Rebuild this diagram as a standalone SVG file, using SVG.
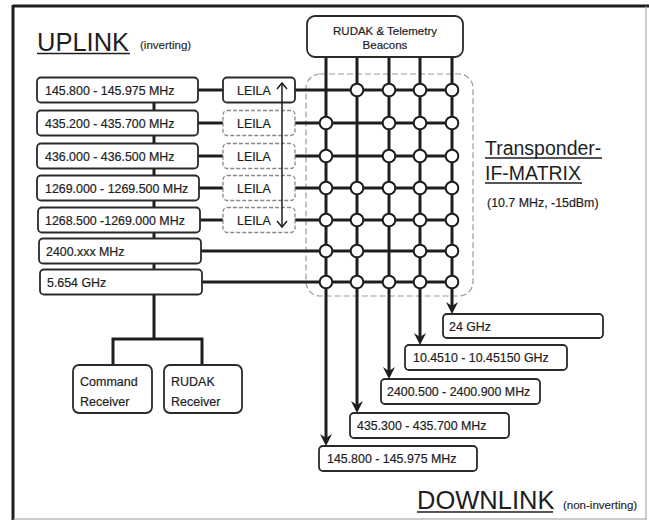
<svg xmlns="http://www.w3.org/2000/svg" width="649" height="522" viewBox="0 0 649 522">
<style>
text{font-family:"Liberation Sans",Arial,sans-serif;fill:#1e1e1e}
.t{font-size:12.4px;stroke:#1e1e1e;stroke-width:0.2}
.big{font-size:25.5px}
.sub{font-size:11.5px;stroke:#1e1e1e;stroke-width:0.15}
.box{fill:#fff;stroke:#2a2a2a;stroke-width:1.8}
.leila{fill:#fff;stroke:#8a8a8a;stroke-width:1.3;stroke-dasharray:4 2}
.w{stroke:#1e1e1e;stroke-width:3;fill:none}
.j{fill:#fff;stroke:#1e1e1e;stroke-width:2}
.ul{stroke:#1e1e1e;stroke-width:1.4}
</style>
<defs>
<marker id="ah" viewBox="0 0 12 12" refX="6" refY="6" markerWidth="12" markerHeight="12" markerUnits="userSpaceOnUse" orient="auto">
<path d="M0,0 L12,6 L0,12 L4,6 Z" fill="#1e1e1e"/>
</marker>
</defs>
<rect width="649" height="522" fill="#fff"/>
<!-- frame -->
<line x1="13" y1="6" x2="649" y2="6" stroke="#1e1e1e" stroke-width="3"/>
<line x1="13" y1="5" x2="13" y2="520" stroke="#1e1e1e" stroke-width="3"/>
<line x1="646" y1="6" x2="646" y2="520" stroke="#9a9a9a" stroke-width="1"/>
<line x1="13" y1="519" x2="646" y2="519" stroke="#9a9a9a" stroke-width="1"/>

<!-- titles -->
<text class="big" x="37" y="51">UPLINK</text>
<line class="ul" x1="37" y1="53.5" x2="130" y2="53.5"/>
<text class="sub" x="140" y="49">(inverting)</text>
<text class="big" x="417" y="509">DOWNLINK</text>
<line class="ul" x1="417" y1="512" x2="553" y2="512"/>
<text class="sub" x="563" y="509">(non-inverting)</text>
<text x="485" y="155" style="font-size:19.5px">Transponder-</text>
<line class="ul" x1="485" y1="158" x2="602" y2="158"/>
<text x="485" y="180" style="font-size:19.5px">IF-MATRIX</text>
<line class="ul" x1="485" y1="183" x2="582" y2="183"/>
<text class="t" x="487" y="207">(10.7 MHz, -15dBm)</text>

<!-- dashed matrix outline -->
<rect x="306" y="74" width="167" height="222" rx="14" fill="none" stroke="#9a9a9a" stroke-width="1.2" stroke-dasharray="6 3"/>

<!-- connectors -->
<g id="connectors">
<line class="w" x1="154" y1="100" x2="154" y2="339"/>
<polyline class="w" points="113,365 113,339 202,339 202,365"/>
<line class="w" x1="198" y1="90" x2="223" y2="90"/>
<line class="w" x1="198" y1="123" x2="223" y2="123"/>
<line class="w" x1="198" y1="156" x2="223" y2="156"/>
<line class="w" x1="198" y1="188" x2="223" y2="188"/>
<line class="w" x1="198" y1="220" x2="223" y2="220"/>
<line class="w" x1="295" y1="90" x2="452" y2="90"/>
<line class="w" x1="295" y1="123" x2="452" y2="123"/>
<line class="w" x1="295" y1="156" x2="452" y2="156"/>
<line class="w" x1="295" y1="188" x2="452" y2="188"/>
<line class="w" x1="295" y1="220" x2="452" y2="220"/>
<line class="w" x1="200" y1="251" x2="452" y2="251"/>
<line class="w" x1="200" y1="282" x2="452" y2="282"/>
<line class="w" x1="326" y1="57" x2="326" y2="440" marker-end="url(#ah)"/>
<line class="w" x1="357" y1="57" x2="357" y2="407" marker-end="url(#ah)"/>
<line class="w" x1="389" y1="57" x2="389" y2="373" marker-end="url(#ah)"/>
<line class="w" x1="420" y1="57" x2="420" y2="339" marker-end="url(#ah)"/>
<line class="w" x1="452" y1="57" x2="452" y2="308" marker-end="url(#ah)"/>
</g>

<!-- junctions -->
<g id="junctions">
<circle class="j" cx="357" cy="90" r="6.3"/><circle class="j" cx="389" cy="90" r="6.3"/><circle class="j" cx="420" cy="90" r="6.3"/><circle class="j" cx="452" cy="90" r="6.3"/>
<circle class="j" cx="326" cy="123" r="6.3"/><circle class="j" cx="389" cy="123" r="6.3"/><circle class="j" cx="420" cy="123" r="6.3"/><circle class="j" cx="452" cy="123" r="6.3"/>
<circle class="j" cx="326" cy="156" r="6.3"/><circle class="j" cx="389" cy="156" r="6.3"/><circle class="j" cx="420" cy="156" r="6.3"/><circle class="j" cx="452" cy="156" r="6.3"/>
<circle class="j" cx="326" cy="188" r="6.3"/><circle class="j" cx="357" cy="188" r="6.3"/><circle class="j" cx="389" cy="188" r="6.3"/><circle class="j" cx="420" cy="188" r="6.3"/><circle class="j" cx="452" cy="188" r="6.3"/>
<circle class="j" cx="326" cy="220" r="6.3"/><circle class="j" cx="357" cy="220" r="6.3"/><circle class="j" cx="389" cy="220" r="6.3"/><circle class="j" cx="420" cy="220" r="6.3"/><circle class="j" cx="452" cy="220" r="6.3"/>
<circle class="j" cx="326" cy="251" r="6.3"/><circle class="j" cx="357" cy="251" r="6.3"/><circle class="j" cx="420" cy="251" r="6.3"/><circle class="j" cx="452" cy="251" r="6.3"/>
<circle class="j" cx="326" cy="282" r="6.3"/><circle class="j" cx="357" cy="282" r="6.3"/><circle class="j" cx="389" cy="282" r="6.3"/><circle class="j" cx="420" cy="282" r="6.3"/><circle class="j" cx="452" cy="282" r="6.3"/>
</g>

<!-- uplink nodes -->
<g id="up1"><rect class="box" x="37" y="77.5" width="161" height="25" rx="4"/><text class="t" x="45" y="94.5">145.800 - 145.975 MHz</text></g>
<g id="up2"><rect class="box" x="37" y="110.5" width="161" height="25" rx="4"/><text class="t" x="45" y="127.5">435.200 - 435.700 MHz</text></g>
<g id="up3"><rect class="box" x="37" y="143.5" width="161" height="25" rx="4"/><text class="t" x="45" y="160.5">436.000 - 436.500 MHz</text></g>
<g id="up4"><rect class="box" x="37" y="175.5" width="162" height="25" rx="4"/><text class="t" x="45" y="192.5">1269.000 - 1269.500 MHz</text></g>
<g id="up5"><rect class="box" x="38" y="207.5" width="162" height="25" rx="4"/><text class="t" x="45" y="224.5">1268.500 -1269.000 MHz</text></g>
<g id="up6"><rect class="box" x="39" y="238.5" width="162" height="25" rx="4"/><text class="t" x="46" y="255.5">2400.xxx MHz</text></g>
<g id="up7"><rect class="box" x="40" y="269.5" width="162" height="25" rx="4"/><text class="t" x="47" y="286.5">5.654 GHz</text></g>

<!-- LEILA nodes -->
<g id="leila1"><rect class="box" x="223" y="77.5" width="72" height="25" rx="4"/><text class="t" x="237" y="94.5">LEILA</text></g>
<g id="leila2"><rect class="leila" x="223" y="110.5" width="72" height="25" rx="4"/><text class="t" x="237" y="127.5">LEILA</text></g>
<g id="leila3"><rect class="leila" x="223" y="143.5" width="72" height="25" rx="4"/><text class="t" x="237" y="160.5">LEILA</text></g>
<g id="leila4"><rect class="leila" x="223" y="175.5" width="72" height="25" rx="4"/><text class="t" x="237" y="192.5">LEILA</text></g>
<g id="leila5"><rect class="leila" x="223" y="207.5" width="72" height="25" rx="4"/><text class="t" x="237" y="224.5">LEILA</text></g>
<g id="leila-arrow">
<line x1="282" y1="83" x2="282" y2="227" stroke="#1e1e1e" stroke-width="1.5"/>
<polyline points="277,89 282,83 287,89" fill="none" stroke="#1e1e1e" stroke-width="1.5"/>
<polyline points="277,221 282,227 287,221" fill="none" stroke="#1e1e1e" stroke-width="1.5"/>
</g>

<!-- beacons -->
<g id="beacons"><rect class="box" x="307" y="16" width="156" height="41" rx="8"/>
<text class="t" x="385" y="35" text-anchor="middle" style="font-size:11.5px">RUDAK &amp; Telemetry</text>
<text class="t" x="385" y="49" text-anchor="middle" style="font-size:11.5px">Beacons</text></g>

<!-- receivers -->
<g id="cmdrx"><rect class="box" x="73" y="365" width="79" height="48" rx="6"/><text class="t" x="80" y="386" style="font-size:12.5px">Command</text><text class="t" x="80" y="406" style="font-size:12.5px">Receiver</text></g>
<g id="rudakrx"><rect class="box" x="164" y="365" width="78" height="48" rx="6"/><text class="t" x="171" y="386" style="font-size:12.5px">RUDAK</text><text class="t" x="171" y="406" style="font-size:12.5px">Receiver</text></g>

<!-- downlink nodes -->
<g id="dn1"><rect class="box" x="443" y="314" width="160" height="24" rx="4"/><text class="t" x="449" y="331">24 GHz</text></g>
<g id="dn2"><rect class="box" x="405" y="345" width="162" height="25" rx="4"/><text class="t" x="413" y="362">10.4510 - 10.45150 GHz</text></g>
<g id="dn3"><rect class="box" x="381" y="379" width="159" height="25" rx="4"/><text class="t" x="387" y="396">2400.500 - 2400.900 MHz</text></g>
<g id="dn4"><rect class="box" x="350" y="413" width="159" height="25" rx="4"/><text class="t" x="357" y="430">435.300 - 435.700 MHz</text></g>
<g id="dn5"><rect class="box" x="319" y="446" width="158" height="25" rx="4"/><text class="t" x="327" y="463">145.800 - 145.975 MHz</text></g>
</svg>
